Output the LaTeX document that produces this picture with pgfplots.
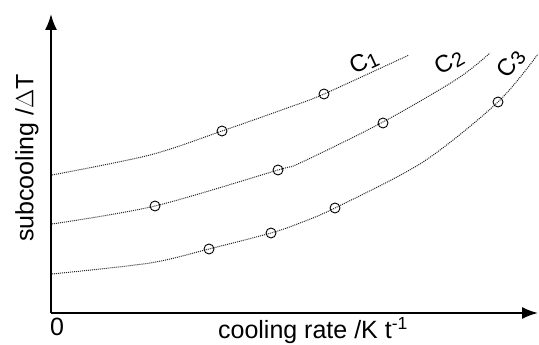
\documentclass[border=0pt]{standalone}
\usepackage{fontspec}
\setmainfont{Liberation Sans}
\usepackage{pgfplots}
\pgfplotsset{compat=1.18}
\usetikzlibrary{arrows.meta}
\begin{document}
\begin{tikzpicture}
\path[use as bounding box] (-51pt,-32pt) rectangle (488pt,313pt);
\begin{axis}[
  x=1pt, y=1pt, scale only axis,
  xmin=0, xmax=487, ymin=0, ymax=299,
  axis lines=left,
  axis line style={line width=1.8pt, -{Latex[length=16pt,width=12pt]}},
  xtick=\empty, ytick=\empty,
  clip=false,
]
% curves
\addplot[smooth, densely dotted, line width=1pt, black!85] coordinates {
 (1,138) (99,158) (171,182) (239,206) (273,219) (358,258)};
\addplot[smooth, densely dotted, line width=1pt, black!85] coordinates {
 (1,89) (104,107) (227,143) (249,150) (332,191) (406,234) (439,260)};
\addplot[smooth, densely dotted, line width=1pt, black!85] coordinates {
 (1,39) (99,50) (158,64) (220,80) (249,90) (284,105) (372,151) (447,211) (487,259)};
% markers
\addplot[only marks, mark=o, mark size=5pt, mark options={line width=0.9pt, black}] coordinates {
 (171,182) (273,219)};
\addplot[only marks, mark=o, mark size=5pt, mark options={line width=0.9pt, black}] coordinates {
 (104,107) (227,143) (332,190)};
\addplot[only marks, mark=o, mark size=5pt, mark options={line width=0.9pt, black}] coordinates {
 (158,64) (220,80) (284,105) (447,211)};
\node[rotate=25, inner sep=0pt, font=\fontsize{24}{26}\selectfont] at (axis cs:313,251) {C\raisebox{-0.2ex}{\fontsize{20}{22}\selectfont 1}};
\node[rotate=30, inner sep=0pt, font=\fontsize{24}{26}\selectfont] at (axis cs:398,251) {C\raisebox{-0.2ex}{\fontsize{20}{22}\selectfont 2}};
\node[rotate=55, inner sep=0pt, font=\fontsize{24}{26}\selectfont] at (axis cs:460,249) {C\raisebox{-0.2ex}{\fontsize{20}{22}\selectfont 3}};
\end{axis}
\node[font=\fontsize{25}{28}\selectfont] at (6pt,-14pt) {0};
\node[font=\fontsize{25}{28}\selectfont] at (262pt,-18pt) {cooling rate /K t\textsuperscript{-1}};
\node[rotate=90, font=\fontsize{25}{28}\selectfont] at (-24pt,155pt) {subcooling /$\Delta$T};
\end{tikzpicture}
\end{document}
